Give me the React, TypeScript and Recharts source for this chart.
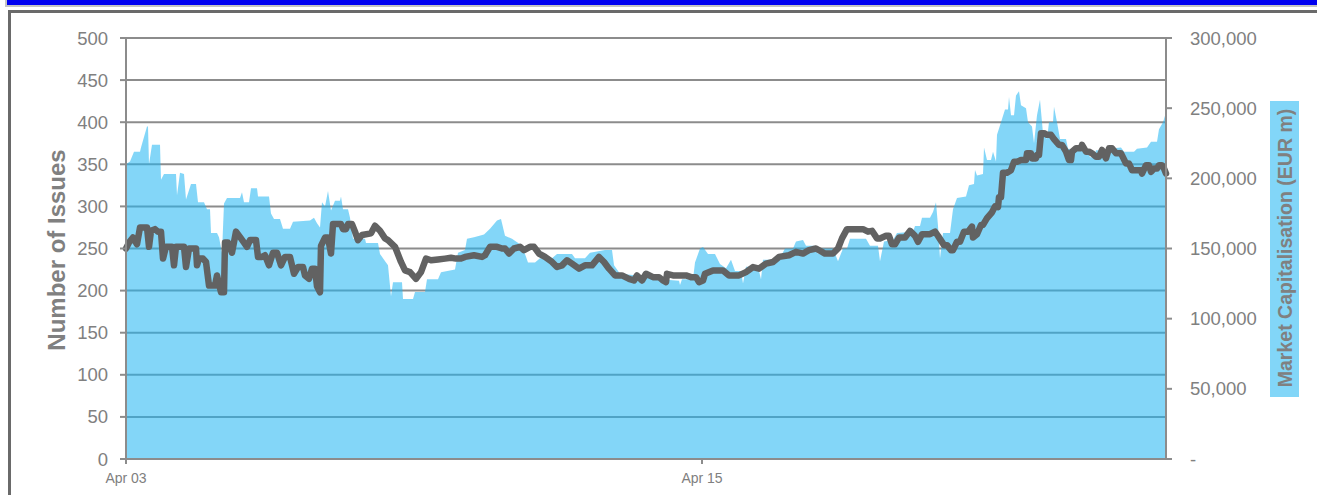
import { ComposedChart, Area, Line, XAxis, YAxis, CartesianGrid } from "recharts";

// Hours since Apr 03 00:00 -> value. Market cap in EUR m (right axis).
const marketCap: [number, number][] = [
  [0, 210000], [2, 212000], [4, 219000], [7, 219000], [7.5, 222000], [9.5, 232000], [10.5, 237000],
  [11, 237000], [11.5, 210000], [13, 224000], [17, 224000], [17.5, 199000], [19, 203000], [25, 203000],
  [25.5, 188000], [27, 204000], [29, 203000], [30, 185000], [32.5, 196000], [35, 196000], [36, 183000],
  [39, 183000], [40.5, 178000], [42, 178000], [42.5, 161000], [45.5, 161000], [46.5, 158000], [48, 147000],
  [49, 182000], [50.5, 186000], [57, 186000], [58, 190000], [59, 183000], [61.5, 183000], [62.5, 193000],
  [65.5, 193000], [66, 187000], [71.5, 187000], [72.5, 175000], [74, 171000], [77, 171000], [78.5, 164000],
  [82, 164000], [83.5, 169000], [92, 170000], [94, 172000], [95.5, 168000], [97, 165000], [98, 183000],
  [99.5, 180000], [101, 191000], [102.5, 177000], [104.5, 184000], [107, 184000], [107.5, 187000],
  [108.5, 178000], [111, 178000], [112, 172000], [113.5, 157000], [119.5, 157000], [120, 154000],
  [126, 154000], [127, 146000], [130, 140000], [131, 138000], [132.5, 116000], [133.5, 126000],
  [138, 126000], [138.5, 114000], [143.5, 114000], [144.5, 119000], [149.5, 119000], [150.5, 128000],
  [156, 128000], [157.5, 133000], [164.5, 135000], [166, 147000], [169.5, 149000], [170.5, 157000],
  [174, 158000], [179, 160000], [182, 164000], [185.5, 170000], [187.5, 171000], [189.5, 159000],
  [193, 157000], [197, 153000], [199.5, 146000], [201, 140000], [204.5, 140000], [207, 143000],
  [213, 143000], [215.5, 146000], [223, 146000], [224.5, 143000], [229.5, 143000], [232, 147000],
  [239.5, 149000], [243, 149000], [244, 138000], [247, 132000], [261, 130000], [267, 128000],
  [276.5, 127000], [277, 124000], [278, 128000], [283.5, 128000], [284.5, 140000], [287, 150000],
  [288.5, 151000], [291, 146000], [294.5, 146000], [297, 139000], [300, 136000], [302.5, 142000],
  [304.5, 134000], [307.5, 134000], [308.5, 125000], [310, 137000], [316, 137000], [317.5, 128000],
  [318.5, 142000], [326.5, 142000], [329.5, 150000], [333.5, 150000], [335, 155000], [338.5, 156000],
  [340, 152000], [344, 152000], [346, 146000], [348, 150000], [353.5, 150000], [356, 141000],
  [358.5, 150000], [360.5, 150000], [362, 157000], [370, 157000], [372, 152000], [376, 152000],
  [377, 141000], [379, 155000], [383.5, 156000], [385.5, 161000], [393.5, 162000], [394.5, 166000],
  [397, 166000], [398, 172000], [402, 172000], [403.5, 176000], [405, 183000], [406, 166000],
  [407, 143000], [408.5, 161000], [412, 161000], [413.5, 178000], [415.5, 186000], [420, 187000],
  [421.5, 195000], [424, 196000], [424.5, 206000], [425.5, 202000], [428.5, 203000], [429, 222000],
  [430.5, 213000], [432.5, 213000], [433.5, 219000], [435, 212000], [435.5, 231000], [437.5, 240000],
  [439.5, 249000], [441, 249000], [441.5, 258000], [442.5, 245000], [444, 245000], [445, 259000],
  [446.5, 262000], [447.5, 252000], [450, 250000], [451, 240000], [453, 237000], [454, 225000],
  [455.5, 245000], [457, 256000], [458.5, 232000], [460.5, 228000], [461.5, 240000], [463.5, 240000],
  [464, 251000], [465.5, 240000], [467, 228000], [470, 228000], [471, 221000], [480.5, 220000],
  [482, 215000], [484, 215000], [485, 220000], [489, 220000], [491, 221000], [497.5, 222000],
  [499, 219000], [504, 219000], [505.5, 221000], [510.5, 222000], [512.5, 226000], [515.5, 226000],
  [516.5, 235000], [518.5, 240000], [520, 247000],
];

// Hours since Apr 03 00:00 -> number of issues (left axis).
const issues: [number, number][] = [
  [0, 250], [1.5, 257], [3.5, 263], [5.5, 255], [7, 275], [10.5, 275], [11.5, 252], [12.5, 271],
  [14.5, 273], [16, 270], [17.5, 270], [18.5, 238], [20, 252], [23, 252], [24, 230], [25, 252],
  [29, 252], [30, 228], [31.5, 250], [35, 250], [35.5, 230], [36.5, 238], [38.5, 238], [40, 234],
  [41.5, 206], [44.5, 206], [45.5, 218], [47.5, 198], [49, 198], [49.5, 257], [51, 257], [53, 245],
  [55, 270], [57.5, 262], [60.5, 252], [62, 260], [65, 260], [66, 240], [68, 240], [69.5, 242],
  [71.5, 230], [73.5, 245], [75.5, 245], [77.5, 230], [79.5, 240], [82, 240], [84, 220], [86, 228],
  [88.5, 228], [89.5, 218], [91.5, 214], [93, 226], [94.5, 226], [95.5, 205], [97, 198], [97.5, 253],
  [99.5, 263], [101, 263], [102.5, 244], [103.5, 279], [107.5, 279], [108.5, 273], [110, 273],
  [111, 279], [113, 279], [114.5, 270], [116, 260], [118, 266], [122.5, 268], [124.5, 277], [127, 271],
  [129.5, 262], [131, 260], [134.5, 252], [137.5, 234], [139.5, 224], [142, 222], [145, 214],
  [147.5, 222], [150, 238], [152.5, 236], [156, 237], [159.5, 238], [162.5, 239], [165, 238],
  [167.5, 238], [169.5, 240], [174, 242], [178, 240], [179.5, 242], [182, 252], [185.5, 252],
  [188, 250], [189.5, 250], [191.5, 244], [194, 250], [197, 252], [199, 248], [202, 252], [204, 252],
  [206.5, 244], [209.5, 240], [213, 234], [215.5, 228], [218, 230], [220.5, 236], [223, 232],
  [226.5, 226], [229.5, 230], [233, 230], [236.5, 240], [239, 234], [241.5, 226], [244.5, 218],
  [248, 218], [251.5, 214], [254, 212], [255.5, 218], [258, 212], [260, 220], [263.5, 216],
  [266.5, 216], [268.5, 212], [270, 210], [270.5, 220], [273.5, 218], [280, 218], [282.5, 216],
  [285, 216], [286.5, 210], [288.5, 212], [289.5, 220], [293.5, 224], [298.5, 224], [301.5, 218],
  [306.5, 218], [310, 222], [313.5, 228], [316.5, 226], [320, 232], [323.5, 234], [326.5, 240],
  [331.5, 242], [335, 246], [338.5, 244], [341.5, 248], [345, 250], [349.5, 244], [353.5, 244],
  [356, 250], [358, 262], [360.5, 273], [368.5, 273], [371, 270], [373, 271], [375.5, 262], [377, 262],
  [380, 265], [381.5, 265], [383, 255], [384.5, 255], [386.5, 263], [389.5, 263], [392, 271],
  [394.5, 265], [396, 258], [398, 267], [402, 267], [404.5, 270], [406, 265], [409, 254], [410.5, 254],
  [412.5, 248], [413.5, 248], [415.5, 258], [417, 258], [419, 270], [421, 270], [423, 276],
  [423.5, 263], [425.5, 267], [427.5, 278], [428.5, 278], [430.5, 286], [433, 293], [434.5, 300],
  [436, 299], [436.5, 311], [437.5, 311], [438.5, 340], [440.5, 340], [442.5, 343], [444, 353],
  [445.5, 353], [447.5, 355], [450, 355], [450.5, 363], [452.5, 363], [453, 357], [455, 357],
  [455.5, 361], [456.5, 361], [457.5, 387], [459, 387], [460.5, 385], [462.5, 385], [464, 380],
  [466.5, 373], [468, 373], [470, 365], [471.5, 355], [472.5, 355], [473, 365], [475, 369],
  [477.5, 369], [478, 373], [480, 365], [481.5, 365], [483, 363], [485, 359], [486.5, 359], [488, 367],
  [490, 357], [491.5, 369], [493, 369], [495, 363], [497.5, 363], [500, 351], [501.5, 351], [503, 343],
  [507.5, 343], [508, 339], [510, 349], [511.5, 349], [512.5, 341], [514, 345], [515.5, 345],
  [516.5, 349], [518, 349], [519, 345], [520, 339],
];

const xTickHours = [0, 288];
const xTickLabels = ["Apr 03", "Apr 15"];
const leftTicks = [0, 50, 100, 150, 200, 250, 300, 350, 400, 450, 500];
const rightTicks = [0, 50000, 100000, 150000, 200000, 250000, 300000];

type Row = { h: number; mcap?: number | null; issues?: number | null };

function buildRows(): Row[] {
  const map = new Map<number, Row>();
  for (const [h, v] of marketCap) map.set(h, { h, mcap: v, issues: null });
  for (const [h, v] of issues) {
    const r = map.get(h) ?? { h, mcap: null, issues: null };
    r.issues = v;
    map.set(h, r);
  }
  return Array.from(map.values()).sort((a, b) => a.h - b.h);
}

const FONT = "'Liberation Sans', Arial, sans-serif";
const GRAY = "#808080";

export default function App() {
  const rows = buildRows();
  return (
    <div style={{ position: "absolute", left: 0, top: 0, width: 1317, height: 495, overflow: "hidden", background: "#fff", fontFamily: FONT }}>
      <div style={{ position: "absolute", left: 5, top: -2, width: 1400, height: 5, background: "#0000f0", border: "2px solid #c4c4c4" }} />
      <div style={{ position: "absolute", left: 8, top: 10, width: 1400, height: 600, border: "3px solid #6a6a6a" }} />
      <div style={{ position: "absolute", left: 0, top: 0 }}>
        <ComposedChart width={1317} height={495} data={rows} margin={{ top: 38, right: 0, left: 0, bottom: 0 }}>
          <CartesianGrid yAxisId="left" vertical={false} stroke="#8c8c8c" strokeWidth={2} strokeOpacity={1} />
          <XAxis
            dataKey="h"
            type="number"
            domain={[0, 520]}
            ticks={xTickHours}
            tickFormatter={(v: number) => xTickLabels[xTickHours.indexOf(v)] ?? ""}
            height={36}
            tick={{ fontSize: 14, fill: GRAY, fontFamily: FONT }}
            axisLine={{ stroke: "#8c8c8c", strokeWidth: 2 }}
            tickLine={{ stroke: "#8c8c8c", strokeWidth: 2 }}
            tickSize={5}
            tickMargin={9}
            interval={0}
          />
          <YAxis
            yAxisId="left"
            orientation="left"
            domain={[0, 500]}
            ticks={leftTicks}
            width={126}
            tick={{ fontSize: 18.5, fill: GRAY, fontFamily: FONT }}
            axisLine={{ stroke: "#8c8c8c", strokeWidth: 2 }}
            tickLine={{ stroke: "#8c8c8c", strokeWidth: 2 }}
            tickSize={6}
            tickMargin={12}
            interval={0}
          />
          <YAxis
            yAxisId="right"
            orientation="right"
            domain={[0, 300000]}
            ticks={rightTicks}
            width={151}
            tick={{ fontSize: 18.5, fill: GRAY, fontFamily: FONT, textAnchor: "start" }}
            tickFormatter={(v: number) => (v === 0 ? "-" : v.toLocaleString("en-US"))}
            axisLine={{ stroke: "#8c8c8c", strokeWidth: 2 }}
            tickLine={{ stroke: "#8c8c8c", strokeWidth: 2 }}
            tickSize={6}
            tickMargin={18}
            interval={0}
          />
          <Area
            yAxisId="right"
            type="linear"
            dataKey="mcap"
            stroke="none"
            fill="#21b6f3"
            fillOpacity={0.56}
            connectNulls
            dot={false}
            activeDot={false}
            isAnimationActive={false}
          />
          <Line
            yAxisId="left"
            type="linear"
            dataKey="issues"
            stroke="#626262"
            strokeWidth={6.5}
            strokeLinejoin="round"
            strokeLinecap="round"
            connectNulls
            dot={false}
            activeDot={false}
            isAnimationActive={false}
          />
        </ComposedChart>
      </div>
      <div
        style={{
          position: "absolute", left: 57, top: 250, transform: "translate(-50%, -50%) rotate(-90deg)",
          whiteSpace: "nowrap", fontSize: 24, fontWeight: "bold", color: GRAY,
        }}
      >
        Number of Issues
      </div>
      <div style={{ position: "absolute", left: 1270, top: 101, width: 29, height: 296, background: "#82d6f8" }} />
      <div
        style={{
          position: "absolute", left: 1285, top: 248, transform: "translate(-50%, -50%) rotate(-90deg)",
          whiteSpace: "nowrap", fontSize: 19.5, fontWeight: "bold", color: GRAY,
        }}
      >
        Market Capitalisation (EUR m)
      </div>
    </div>
  );
}
